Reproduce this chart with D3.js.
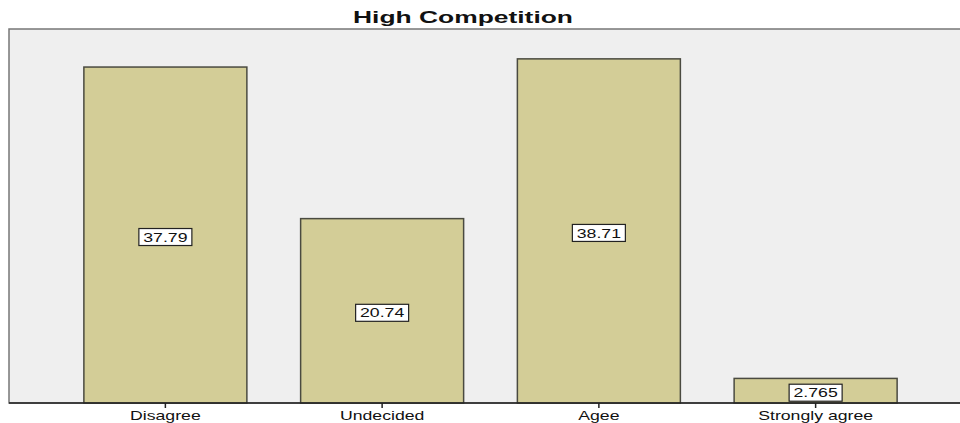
<!DOCTYPE html>
<html>
<head>
<meta charset="utf-8">
<script src="https://cdn.jsdelivr.net/npm/d3@7"></script>
<style>
  body { margin: 0; background: #fff; }
  text { font-family: "Liberation Sans", Arial, sans-serif; }
</style>
</head>
<body>
<svg id="chart" width="960" height="423"></svg>
<script>
"use strict";

var title = "High Competition";
var categories = ["Disagree", "Undecided", "Agee", "Strongly agree"];
var values = [37.79, 20.74, 38.71, 2.765];
var labels = ["37.79", "20.74", "38.71", "2.765"];

var svg = d3.select("#chart");

// plot frame
var frame = {left: 9, top: 29, right: 962, bottom: 403};
var stretch = 1.36; // source fonts render wide

var x = d3.scaleBand()
    .domain(categories)
    .range([57, 924])
    .paddingInner(0.248)
    .paddingOuter(0.124);

var y = d3.scaleLinear()
    .domain([0, 42.07])
    .range([frame.bottom, frame.top]);

svg.append("rect")
    .attr("x", frame.left).attr("y", frame.top)
    .attr("width", frame.right - frame.left).attr("height", frame.bottom - frame.top)
    .attr("fill", "#efefef")
    .attr("stroke", "#777").attr("stroke-width", 1.5);

svg.append("text")
    .attr("x", 463).attr("y", 23)
    .attr("text-anchor", "middle")
    .attr("textLength", 220).attr("lengthAdjust", "spacingAndGlyphs")
    .style("font-size", "17px").style("font-weight", "bold")
    .attr("fill", "#111")
    .text(title);

var data = categories.map((c, i) => ({cat: c, val: values[i], lab: labels[i]}));

svg.selectAll("rect.bar").data(data).enter().append("rect")
    .attr("class", "bar")
    .attr("x", d => x(d.cat))
    .attr("y", d => y(d.val))
    .attr("width", x.bandwidth())
    .attr("height", d => y(0) - y(d.val))
    .attr("fill", "#d3cd97")
    .attr("stroke", "#4a4a40").attr("stroke-width", 1.5);

// x axis
var axis = svg.append("g")
    .attr("transform", "translate(0," + frame.bottom + ")")
    .call(d3.axisBottom(x).tickSize(5).tickPadding(3));
axis.select(".domain").remove();
axis.append("line")
    .attr("x1", frame.left).attr("x2", frame.right)
    .attr("stroke", "#222").attr("stroke-width", 1.5);
axis.selectAll(".tick line").attr("stroke", "#222").attr("stroke-width", 1.5);
axis.selectAll(".tick text")
    .attr("transform", "scale(" + stretch + ",1)")
    .style("font-size", "13px")
    .style("font-family", "'Liberation Sans', Arial, sans-serif")
    .attr("fill", "#111");

// value labels
var lbl = svg.selectAll("g.lbl").data(data).enter().append("g")
    .attr("class", "lbl")
    .attr("transform", d => "translate(" + (x(d.cat) + x.bandwidth() / 2) + "," + ((y(d.val) + y(0)) / 2 + 2) + ")");
lbl.append("rect")
    .attr("x", -26.5).attr("y", -8.5)
    .attr("width", 53).attr("height", 17)
    .attr("fill", "#fff")
    .attr("stroke", "#222").attr("stroke-width", 1.2);
lbl.append("text")
    .attr("text-anchor", "middle")
    .attr("dy", "0.36em")
    .attr("transform", "scale(" + stretch + ",1)")
    .style("font-size", "13px")
    .attr("fill", "#111")
    .text(d => d.lab);
</script>
</body>
</html>
